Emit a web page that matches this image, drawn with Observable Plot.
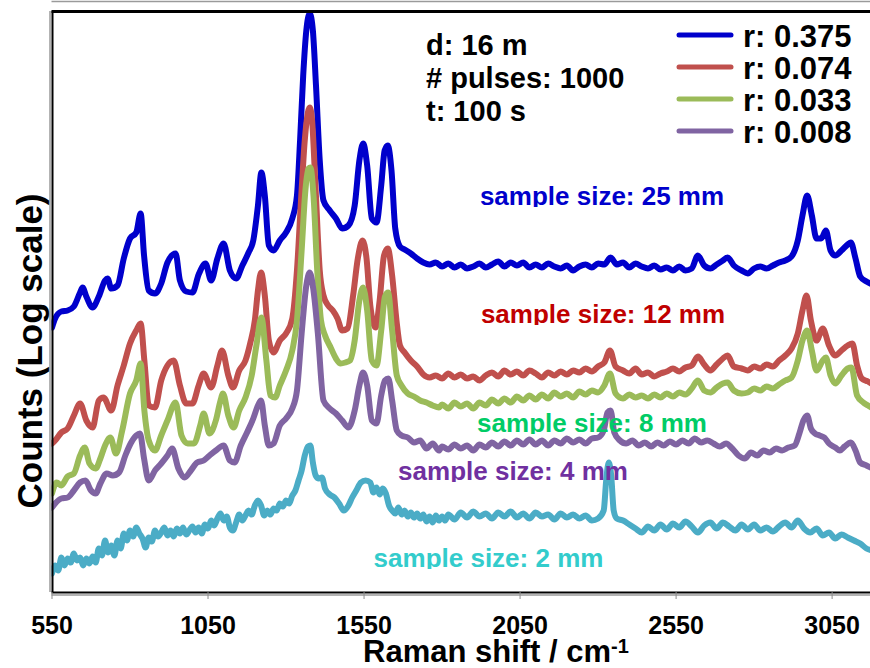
<!DOCTYPE html>
<html><head><meta charset="utf-8">
<script src="https://cdn.jsdelivr.net/npm/d3@7"></script>
<script src="https://cdn.jsdelivr.net/npm/@observablehq/plot@0.6"></script>
<style>body{margin:0;background:#fff}</style>
</head><body><div id="chart"></div>
<script>
// ---- data (Raman shift in cm^-1, counts as log-scale level, arbitrary units) ----
const xTicks = [550, 1050, 1550, 2050, 2550, 3050];
const seriesNames = ["r: 0.375", "r: 0.074", "r: 0.033", "r: 0.008", "r: 2mm"];
const sampleLabels = ["sample size: 25 mm", "sample size: 12 mm", "sample size: 8 mm", "sample size: 4 mm", "sample size: 2 mm"];
const infoLines = ["d: 16 m", "# pulses: 1000", "t: 100 s"];

const blue375 = [[550,2.65],[560,2.74],[580,2.81],[600,2.82],[620,2.86],[640,3.00],[648,3.05],[660,2.96],[680,2.85],[700,2.96],[720,3.12],[728,3.14],[740,3.04],[760,3.07],[780,3.34],[800,3.54],[820,3.60],[834,3.79],[845,3.37],[860,3.02],[880,2.99],[900,3.09],[920,3.30],[946,3.39],[960,3.12],[980,3.01],[1000,3.00],[1020,3.18],[1042,3.29],[1060,3.12],[1080,3.34],[1100,3.49],[1120,3.22],[1140,3.14],[1160,3.27],[1180,3.40],[1195,3.52],[1210,3.87],[1221,4.20],[1232,3.97],[1245,3.47],[1260,3.42],[1280,3.52],[1300,3.60],[1320,3.74],[1335,3.97],[1345,4.52],[1355,5.17],[1365,5.62],[1376,5.79],[1386,5.62],[1396,5.07],[1408,4.32],[1420,3.92],[1440,3.82],[1460,3.74],[1480,3.64],[1500,3.67],[1520,3.87],[1535,4.32],[1547,4.49],[1560,4.27],[1575,3.74],[1590,3.70],[1605,4.07],[1616,4.42],[1626,4.47],[1638,4.22],[1650,3.64],[1665,3.46],[1680,3.43],[1700,3.39],[1720,3.34],[1740,3.30],[1760,3.28],[1780,3.30],[1800,3.26],[1820,3.29],[1840,3.25],[1860,3.28],[1880,3.24],[1900,3.26],[1920,3.29],[1940,3.25],[1960,3.28],[1980,3.31],[2000,3.26],[2020,3.30],[2040,3.27],[2060,3.30],[2080,3.25],[2100,3.28],[2120,3.25],[2140,3.29],[2160,3.26],[2180,3.24],[2200,3.27],[2220,3.22],[2240,3.26],[2260,3.28],[2280,3.25],[2300,3.29],[2320,3.28],[2340,3.35],[2360,3.28],[2380,3.30],[2400,3.25],[2420,3.29],[2440,3.26],[2460,3.24],[2480,3.27],[2500,3.23],[2520,3.25],[2540,3.22],[2560,3.26],[2580,3.22],[2600,3.24],[2620,3.37],[2640,3.27],[2660,3.24],[2680,3.28],[2700,3.32],[2715,3.35],[2735,3.27],[2760,3.22],[2780,3.19],[2800,3.24],[2820,3.26],[2840,3.24],[2860,3.27],[2880,3.30],[2900,3.32],[2920,3.36],[2940,3.52],[2955,3.77],[2970,3.97],[2985,3.77],[3000,3.54],[3015,3.54],[3030,3.62],[3045,3.42],[3060,3.37],[3080,3.42],[3100,3.48],[3110,3.50],[3125,3.34],[3140,3.16],[3160,3.11],[3180,3.08]];

const red074 = [[550,1.49],[560,1.52],[580,1.60],[600,1.64],[620,1.77],[640,1.89],[660,1.72],[680,1.65],[700,1.92],[715,1.95],[740,1.82],[760,2.07],[780,2.27],[800,2.49],[820,2.62],[834,2.69],[846,2.32],[860,1.87],[880,1.85],[900,2.12],[920,2.27],[940,2.32],[960,2.07],[980,1.89],[1000,1.89],[1020,2.07],[1036,2.19],[1060,2.05],[1080,2.27],[1095,2.42],[1115,2.17],[1130,2.05],[1150,2.22],[1170,2.32],[1185,2.49],[1200,2.72],[1210,3.02],[1220,3.20],[1232,2.97],[1245,2.52],[1260,2.40],[1280,2.52],[1300,2.59],[1320,2.74],[1335,3.22],[1348,3.92],[1360,4.52],[1370,4.80],[1376,4.85],[1383,4.74],[1395,4.02],[1408,3.22],[1420,2.97],[1435,2.87],[1450,2.82],[1465,2.74],[1480,2.62],[1497,2.64],[1515,2.97],[1530,3.34],[1545,3.52],[1558,3.34],[1570,2.87],[1587,2.65],[1600,2.92],[1614,3.37],[1626,3.44],[1640,3.17],[1654,2.72],[1665,2.47],[1680,2.40],[1700,2.32],[1720,2.26],[1740,2.18],[1760,2.15],[1780,2.17],[1800,2.14],[1820,2.19],[1840,2.15],[1860,2.18],[1880,2.14],[1900,2.16],[1920,2.12],[1940,2.17],[1960,2.20],[1980,2.16],[2000,2.22],[2020,2.18],[2040,2.21],[2060,2.17],[2080,2.22],[2100,2.19],[2120,2.15],[2140,2.20],[2160,2.17],[2180,2.21],[2200,2.18],[2220,2.22],[2240,2.20],[2260,2.24],[2280,2.21],[2300,2.26],[2320,2.30],[2338,2.42],[2356,2.26],[2380,2.22],[2400,2.19],[2420,2.24],[2440,2.18],[2460,2.20],[2480,2.16],[2500,2.19],[2520,2.21],[2540,2.24],[2560,2.21],[2580,2.25],[2600,2.27],[2620,2.36],[2640,2.28],[2660,2.22],[2680,2.28],[2700,2.34],[2715,2.37],[2735,2.26],[2760,2.24],[2780,2.22],[2800,2.26],[2820,2.24],[2840,2.28],[2860,2.26],[2880,2.32],[2900,2.37],[2920,2.44],[2940,2.59],[2955,2.82],[2968,2.97],[2982,2.72],[3000,2.52],[3020,2.64],[3040,2.47],[3060,2.37],[3080,2.42],[3100,2.47],[3115,2.49],[3130,2.27],[3145,2.14],[3165,2.11],[3180,2.08]];

const green033 = [[550,0.99],[565,1.10],[580,1.07],[600,1.16],[620,1.19],[640,1.37],[655,1.45],[670,1.29],[690,1.24],[705,1.34],[720,1.47],[737,1.55],[755,1.39],[775,1.62],[800,1.99],[820,2.12],[834,2.29],[846,1.82],[860,1.52],[880,1.42],[900,1.57],[920,1.72],[946,1.90],[965,1.57],[985,1.49],[1005,1.49],[1025,1.67],[1036,1.79],[1055,1.59],[1075,1.72],[1090,1.92],[1098,1.99],[1115,1.77],[1132,1.65],[1150,1.82],[1170,1.95],[1190,2.17],[1205,2.47],[1221,2.75],[1237,2.32],[1250,1.97],[1265,1.95],[1280,2.07],[1300,2.22],[1320,2.42],[1335,2.72],[1350,3.42],[1362,4.02],[1372,4.24],[1378,4.25],[1388,3.97],[1400,3.22],[1412,2.72],[1425,2.57],[1443,2.45],[1460,2.34],[1475,2.29],[1490,2.30],[1505,2.32],[1520,2.52],[1535,2.92],[1547,3.05],[1560,2.82],[1575,2.32],[1590,2.27],[1605,2.62],[1617,2.96],[1627,3.00],[1640,2.62],[1655,2.17],[1670,2.07],[1690,1.99],[1710,1.96],[1730,1.92],[1750,1.90],[1770,1.87],[1790,1.85],[1800,1.88],[1820,1.84],[1840,1.90],[1860,1.86],[1880,1.89],[1900,1.84],[1920,1.90],[1940,1.87],[1960,1.93],[1980,1.89],[2000,1.94],[2020,1.90],[2040,1.96],[2060,1.92],[2080,1.97],[2100,1.93],[2120,1.98],[2140,1.94],[2160,2.00],[2180,1.96],[2200,1.99],[2220,1.95],[2240,2.01],[2260,1.98],[2280,2.02],[2300,2.00],[2320,2.07],[2338,2.19],[2356,1.99],[2380,1.94],[2400,1.98],[2420,1.95],[2440,1.97],[2460,1.94],[2480,1.98],[2500,1.95],[2520,1.99],[2540,1.96],[2560,2.00],[2580,1.98],[2600,2.04],[2620,2.12],[2640,2.02],[2660,2.00],[2680,2.05],[2700,2.09],[2715,2.10],[2735,2.02],[2760,1.99],[2780,2.00],[2800,2.04],[2820,2.02],[2840,2.06],[2860,2.04],[2880,2.08],[2900,2.12],[2920,2.15],[2940,2.32],[2955,2.52],[2970,2.62],[2985,2.42],[3000,2.22],[3020,2.32],[3030,2.35],[3045,2.17],[3060,2.09],[3080,2.17],[3100,2.24],[3112,2.25],[3130,1.97],[3150,1.90],[3165,1.87],[3180,1.84]];

const purple008 = [[550,0.85],[560,0.89],[580,0.94],[600,0.95],[620,1.02],[640,1.10],[657,1.12],[675,1.02],[690,0.99],[705,1.09],[725,1.19],[745,1.17],[765,1.20],[785,1.37],[802,1.49],[820,1.57],[832,1.59],[845,1.34],[860,1.12],[880,1.22],[900,1.29],[920,1.37],[935,1.44],[955,1.24],[975,1.15],[995,1.22],[1015,1.30],[1036,1.32],[1055,1.37],[1075,1.42],[1100,1.47],[1120,1.32],[1135,1.30],[1155,1.47],[1175,1.60],[1195,1.74],[1210,1.87],[1220,1.92],[1232,1.67],[1245,1.47],[1260,1.49],[1280,1.67],[1300,1.74],[1320,1.84],[1335,2.02],[1350,2.59],[1365,3.07],[1376,3.20],[1388,3.02],[1402,2.59],[1420,1.92],[1440,1.84],[1460,1.79],[1480,1.72],[1500,1.65],[1520,1.82],[1535,2.07],[1547,2.20],[1560,2.07],[1575,1.72],[1590,1.69],[1605,1.97],[1617,2.12],[1628,2.14],[1640,1.92],[1655,1.62],[1670,1.57],[1690,1.55],[1710,1.50],[1730,1.52],[1750,1.44],[1770,1.49],[1790,1.42],[1800,1.46],[1820,1.43],[1840,1.48],[1860,1.44],[1880,1.47],[1900,1.42],[1920,1.48],[1940,1.45],[1960,1.50],[1980,1.46],[2000,1.51],[2020,1.47],[2040,1.52],[2060,1.48],[2080,1.53],[2100,1.48],[2120,1.52],[2140,1.47],[2160,1.52],[2180,1.49],[2200,1.54],[2220,1.50],[2240,1.53],[2260,1.49],[2280,1.54],[2300,1.55],[2318,1.62],[2330,1.80],[2340,1.82],[2352,1.60],[2370,1.52],[2390,1.49],[2410,1.52],[2430,1.47],[2450,1.50],[2470,1.46],[2490,1.50],[2510,1.47],[2530,1.51],[2550,1.48],[2570,1.52],[2590,1.49],[2610,1.54],[2630,1.50],[2650,1.52],[2670,1.49],[2690,1.46],[2710,1.49],[2730,1.44],[2750,1.37],[2770,1.34],[2790,1.40],[2810,1.37],[2830,1.42],[2850,1.40],[2870,1.44],[2890,1.42],[2910,1.45],[2930,1.47],[2945,1.59],[2958,1.72],[2970,1.77],[2982,1.64],[2995,1.59],[3010,1.57],[3025,1.55],[3040,1.49],[3060,1.45],[3075,1.42],[3090,1.46],[3110,1.50],[3125,1.42],[3140,1.30],[3160,1.27],[3180,1.24]];

const cyan2mm = [[550,0.19],[560,0.27],[570,0.22],[580,0.35],[590,0.27],[600,0.34],[610,0.30],[620,0.39],[630,0.32],[640,0.35],[650,0.27],[660,0.34],[670,0.29],[680,0.36],[690,0.30],[700,0.44],[710,0.37],[720,0.52],[730,0.40],[740,0.47],[750,0.37],[760,0.52],[770,0.44],[780,0.59],[790,0.52],[800,0.62],[810,0.56],[820,0.65],[830,0.59],[840,0.54],[850,0.45],[860,0.55],[870,0.51],[880,0.62],[890,0.56],[900,0.60],[910,0.65],[920,0.57],[930,0.62],[940,0.56],[950,0.64],[960,0.59],[970,0.65],[980,0.58],[990,0.62],[1000,0.66],[1010,0.60],[1020,0.65],[1030,0.59],[1040,0.68],[1050,0.64],[1060,0.72],[1070,0.67],[1080,0.74],[1090,0.79],[1100,0.72],[1110,0.76],[1120,0.65],[1130,0.62],[1140,0.70],[1150,0.78],[1160,0.72],[1170,0.77],[1180,0.82],[1190,0.78],[1200,0.87],[1210,0.92],[1220,0.87],[1230,0.77],[1240,0.82],[1250,0.78],[1260,0.84],[1270,0.82],[1280,0.89],[1290,0.86],[1300,0.92],[1310,0.89],[1320,0.97],[1330,1.02],[1340,1.12],[1350,1.22],[1360,1.37],[1370,1.46],[1378,1.47],[1386,1.30],[1395,1.17],[1405,1.14],[1415,1.15],[1425,1.04],[1440,0.98],[1455,0.95],[1470,0.89],[1485,0.82],[1500,0.87],[1512,0.95],[1525,1.02],[1540,1.10],[1555,1.12],[1570,1.10],[1580,1.00],[1590,1.05],[1600,0.98],[1610,1.04],[1620,0.99],[1630,0.87],[1640,0.82],[1650,0.79],[1660,0.85],[1670,0.78],[1680,0.82],[1690,0.76],[1700,0.80],[1710,0.75],[1720,0.79],[1730,0.74],[1740,0.78],[1750,0.71],[1760,0.76],[1770,0.70],[1780,0.77],[1790,0.72],[1800,0.76],[1810,0.72],[1820,0.78],[1840,0.73],[1860,0.80],[1880,0.75],[1900,0.81],[1920,0.76],[1940,0.79],[1960,0.74],[1980,0.80],[2000,0.76],[2020,0.81],[2040,0.75],[2060,0.79],[2080,0.74],[2100,0.80],[2120,0.76],[2140,0.78],[2160,0.73],[2180,0.79],[2200,0.75],[2220,0.78],[2240,0.74],[2260,0.77],[2280,0.72],[2300,0.74],[2318,0.82],[2326,1.12],[2334,1.30],[2342,1.17],[2350,0.82],[2360,0.74],[2380,0.72],[2400,0.68],[2420,0.64],[2440,0.60],[2460,0.66],[2480,0.62],[2500,0.68],[2520,0.63],[2540,0.69],[2560,0.65],[2580,0.71],[2600,0.66],[2620,0.60],[2640,0.67],[2660,0.70],[2680,0.64],[2700,0.70],[2720,0.66],[2740,0.62],[2760,0.68],[2780,0.63],[2800,0.68],[2820,0.62],[2840,0.65],[2860,0.61],[2880,0.66],[2900,0.70],[2920,0.65],[2940,0.72],[2960,0.64],[2980,0.60],[3000,0.64],[3020,0.57],[3040,0.60],[3060,0.54],[3080,0.58],[3100,0.55],[3120,0.52],[3140,0.49],[3160,0.44],[3180,0.42]];

const seriesData = [blue375, red074, green033, purple008, cyan2mm];
const lineColors = ["#0000CC", "#C0504D", "#9BBB59", "#8064A2", "#4BACC6"];
const labelColors = ["#0000CC", "#C00000", "#00CC66", "#7030A0", "#33CCCC"];

const rows = seriesData.flatMap((arr, i) => arr.map(([shift, level]) => ({shift, level, series: seriesNames[i]})));

const FONT = "'Liberation Sans', Arial, Helvetica, sans-serif";
const W = 870, H = 668;
const mL = 51.5, mR = 0, mT = 11, mB = 76;

const chart = Plot.plot({
  width: W, height: H,
  marginLeft: mL, marginRight: mR, marginTop: mT, marginBottom: mB,
  style: {fontFamily: FONT, background: "#fff", overflow: "visible"},
  x: {domain: [550, 3173], label: null},
  y: {domain: [0, 5.81], axis: null},
  color: {domain: seriesNames, range: lineColors},
  marks: [
    Plot.line(rows, {x: "shift", y: "level", z: "series", stroke: "series",
      strokeWidth: 6, strokeLinejoin: "round", strokeLinecap: "round", curve: "monotone-x", clip: true}),
    // frame
    Plot.ruleX([550], {stroke: "#9a9a9a", strokeWidth: 1.5, dx: -2}),
    Plot.ruleX([550], {stroke: "#000", strokeWidth: 2, dx: 0.5}),
    Plot.ruleY([0], {stroke: "#000", strokeWidth: 2}),
    Plot.ruleY([0], {stroke: "#9a9a9a", strokeWidth: 1.5, dy: 2.5}),
    Plot.ruleY([5.81], {stroke: "#000", strokeWidth: 3}),
    Plot.ruleY([5.81], {stroke: "#9a9a9a", strokeWidth: 1.5, dy: -10}),
    Plot.axisX({ticks: xTicks, tickFormat: d => String(d), tickSize: 7, tickPadding: 17,
      stroke: "#8c8c8c", fill: "#000", fontSize: 25, fontWeight: "bold", label: null})
  ]
});

document.getElementById("chart").appendChild(chart);
const svg = d3.select(chart);

// sample-size annotations (text boxes clip the descenders, as in the original)
const labelX = [602, 603, 592, 513, 488.5];
const labelBase = [205, 323, 432, 480, 567];
const defs = svg.append("defs");
const ann = svg.append("g").attr("font-family", FONT).attr("font-weight", "bold").attr("font-size", 26).attr("text-anchor", "middle");
sampleLabels.forEach((s, i) => {
  defs.append("clipPath").attr("id", "lab" + i).append("rect")
    .attr("x", labelX[i] - 140).attr("y", labelBase[i] - 30).attr("width", 280).attr("height", 32);
  ann.append("g").attr("clip-path", `url(#lab${i})`).append("text")
    .attr("x", labelX[i]).attr("y", labelBase[i]).attr("fill", labelColors[i]).text(s);
});

// measurement info block
const info = svg.append("g").attr("font-family", FONT).attr("font-weight", "bold")
  .attr("text-anchor", "start").attr("fill", "#000").attr("font-size", 29);
const infoBase = [55, 88, 121];
infoLines.forEach((t, i) => info.append("text").attr("x", 426).attr("y", infoBase[i]).text(t));

// legend
const legend = svg.append("g").attr("font-family", FONT).attr("font-weight", "bold").attr("text-anchor", "start");
const legendY = [35, 67, 99, 131];
seriesNames.slice(0, 4).forEach((name, i) => {
  legend.append("line").attr("x1", 679).attr("x2", 731).attr("y1", legendY[i]).attr("y2", legendY[i])
    .attr("stroke", lineColors[i]).attr("stroke-width", 5).attr("stroke-linecap", "round");
  legend.append("text").attr("x", 743).attr("y", legendY[i] + 11.5).attr("font-size", 31).attr("fill", "#000").text(name);
});

// axis titles
const titles = svg.append("g").attr("font-family", FONT).attr("font-weight", "bold").attr("fill", "#000");
const xt = titles.append("text").attr("x", 363).attr("y", 661.5).attr("font-size", 31).attr("text-anchor", "start");
xt.append("tspan").text("Raman shift / cm");
xt.append("tspan").attr("font-size", 20).attr("dy", -9).text("-1");
titles.append("text").attr("transform", "translate(42,351) rotate(-90)").attr("text-anchor", "middle")
  .attr("font-size", 35).text("Counts (Log scale)");
</script>
</body></html>
